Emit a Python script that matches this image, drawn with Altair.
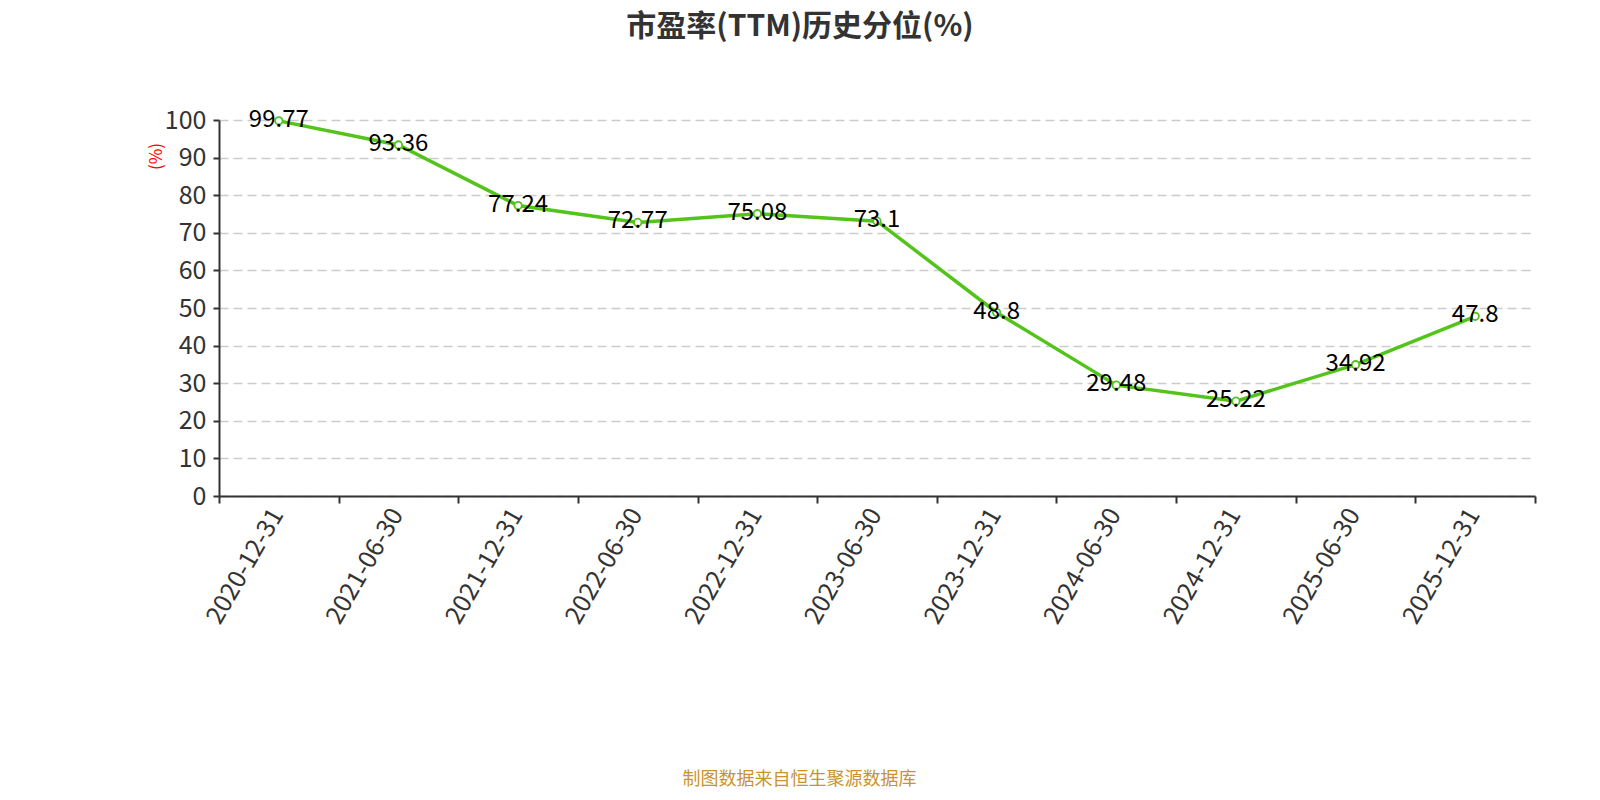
import altair as alt
import pandas as pd

dates = ["2020-12-31", "2021-06-30", "2021-12-31", "2022-06-30", "2022-12-31",
         "2023-06-30", "2023-12-31", "2024-06-30", "2024-12-31", "2025-06-30",
         "2025-12-31"]
values = [99.77, 93.36, 77.24, 72.77, 75.08, 73.1, 48.8, 29.48, 25.22, 34.92, 47.8]
labels = ["99.77", "93.36", "77.24", "72.77", "75.08", "73.1", "48.8", "29.48",
          "25.22", "34.92", "47.8"]

df = pd.DataFrame({"date": dates, "value": values, "label": labels})

FONT = "Noto Sans CJK SC"
GREEN = "#52c41a"

x = alt.X(
    "date:N",
    sort=dates,
    scale=alt.Scale(type="band", paddingInner=0, paddingOuter=0),
    axis=alt.Axis(
        title="制图数据来自恒生聚源数据库",
        titleColor="#c8952c",
        titleFont=FONT,
        titleFontSize=18,
        titleFontWeight="normal",
        titleX=580,
        titleY=283,
        titleAnchor="middle",
        titleAlign="center",
        titleBaseline="middle",
        labelAngle=-60,
        labelAlign="right",
        labelBaseline="middle",
        labelFont=FONT,
        labelFontSize=25,
        labelColor="#333333",
        labelPadding=7,
        labelOffset=-2,
        tickBand="extent",
        tickSize=7,
        tickColor="#333333",
        tickWidth=2,
        domainColor="#333333",
        domainWidth=2,
        grid=False,
    ),
)

y = alt.Y(
    "value:Q",
    scale=alt.Scale(domain=[0, 100], nice=False, zero=True),
    axis=alt.Axis(
        values=[0, 10, 20, 30, 40, 50, 60, 70, 80, 90, 100],
        title="(%)",
        titleColor="#ff0000",
        titleFont=FONT,
        titleFontSize=17,
        titleFontWeight="normal",
        titleX=-63,
        titleY=36,
        titleAngle=270,
        titleAlign="center",
        titleBaseline="middle",
        labelFont=FONT,
        labelFontSize=25,
        labelColor="#333333",
        labelPadding=7,
        tickSize=6,
        tickColor="#333333",
        tickWidth=2,
        domainColor="#333333",
        domainWidth=2,
        grid=True,
        gridColor="#cccccc",
        gridDash=[9, 5],
        gridWidth=1.5,
    ),
)

base = alt.Chart(df).encode(x=x, y=y)

line = base.mark_line(color=GREEN, strokeWidth=3.5)
points = base.mark_point(
    shape="circle", filled=True, fill="white", stroke=GREEN, strokeWidth=1.8,
    size=55, opacity=1
)
text = base.mark_text(
    font=FONT, fontSize=24, color="#000000", align="center", baseline="middle", dy=-1
).encode(text="label:N")

chart = (
    alt.layer(line, points, text)
    .properties(
        width=1316,
        height=376,
        autosize=alt.AutoSizeParams(type="none"),
        padding={"left": 211, "top": 112, "right": 50, "bottom": 295},
        title=alt.TitleParams(
            text="市盈率(TTM)历史分位(%)",
            font=FONT,
            fontSize=30,
            fontWeight="bold",
            color="#333333",
            anchor="middle",
            dx=-77,
            offset=66,
        ),
    )
    .configure_view(stroke=None)
)

chart.save("out.html", embed_options={"renderer": "svg", "actions": False})
